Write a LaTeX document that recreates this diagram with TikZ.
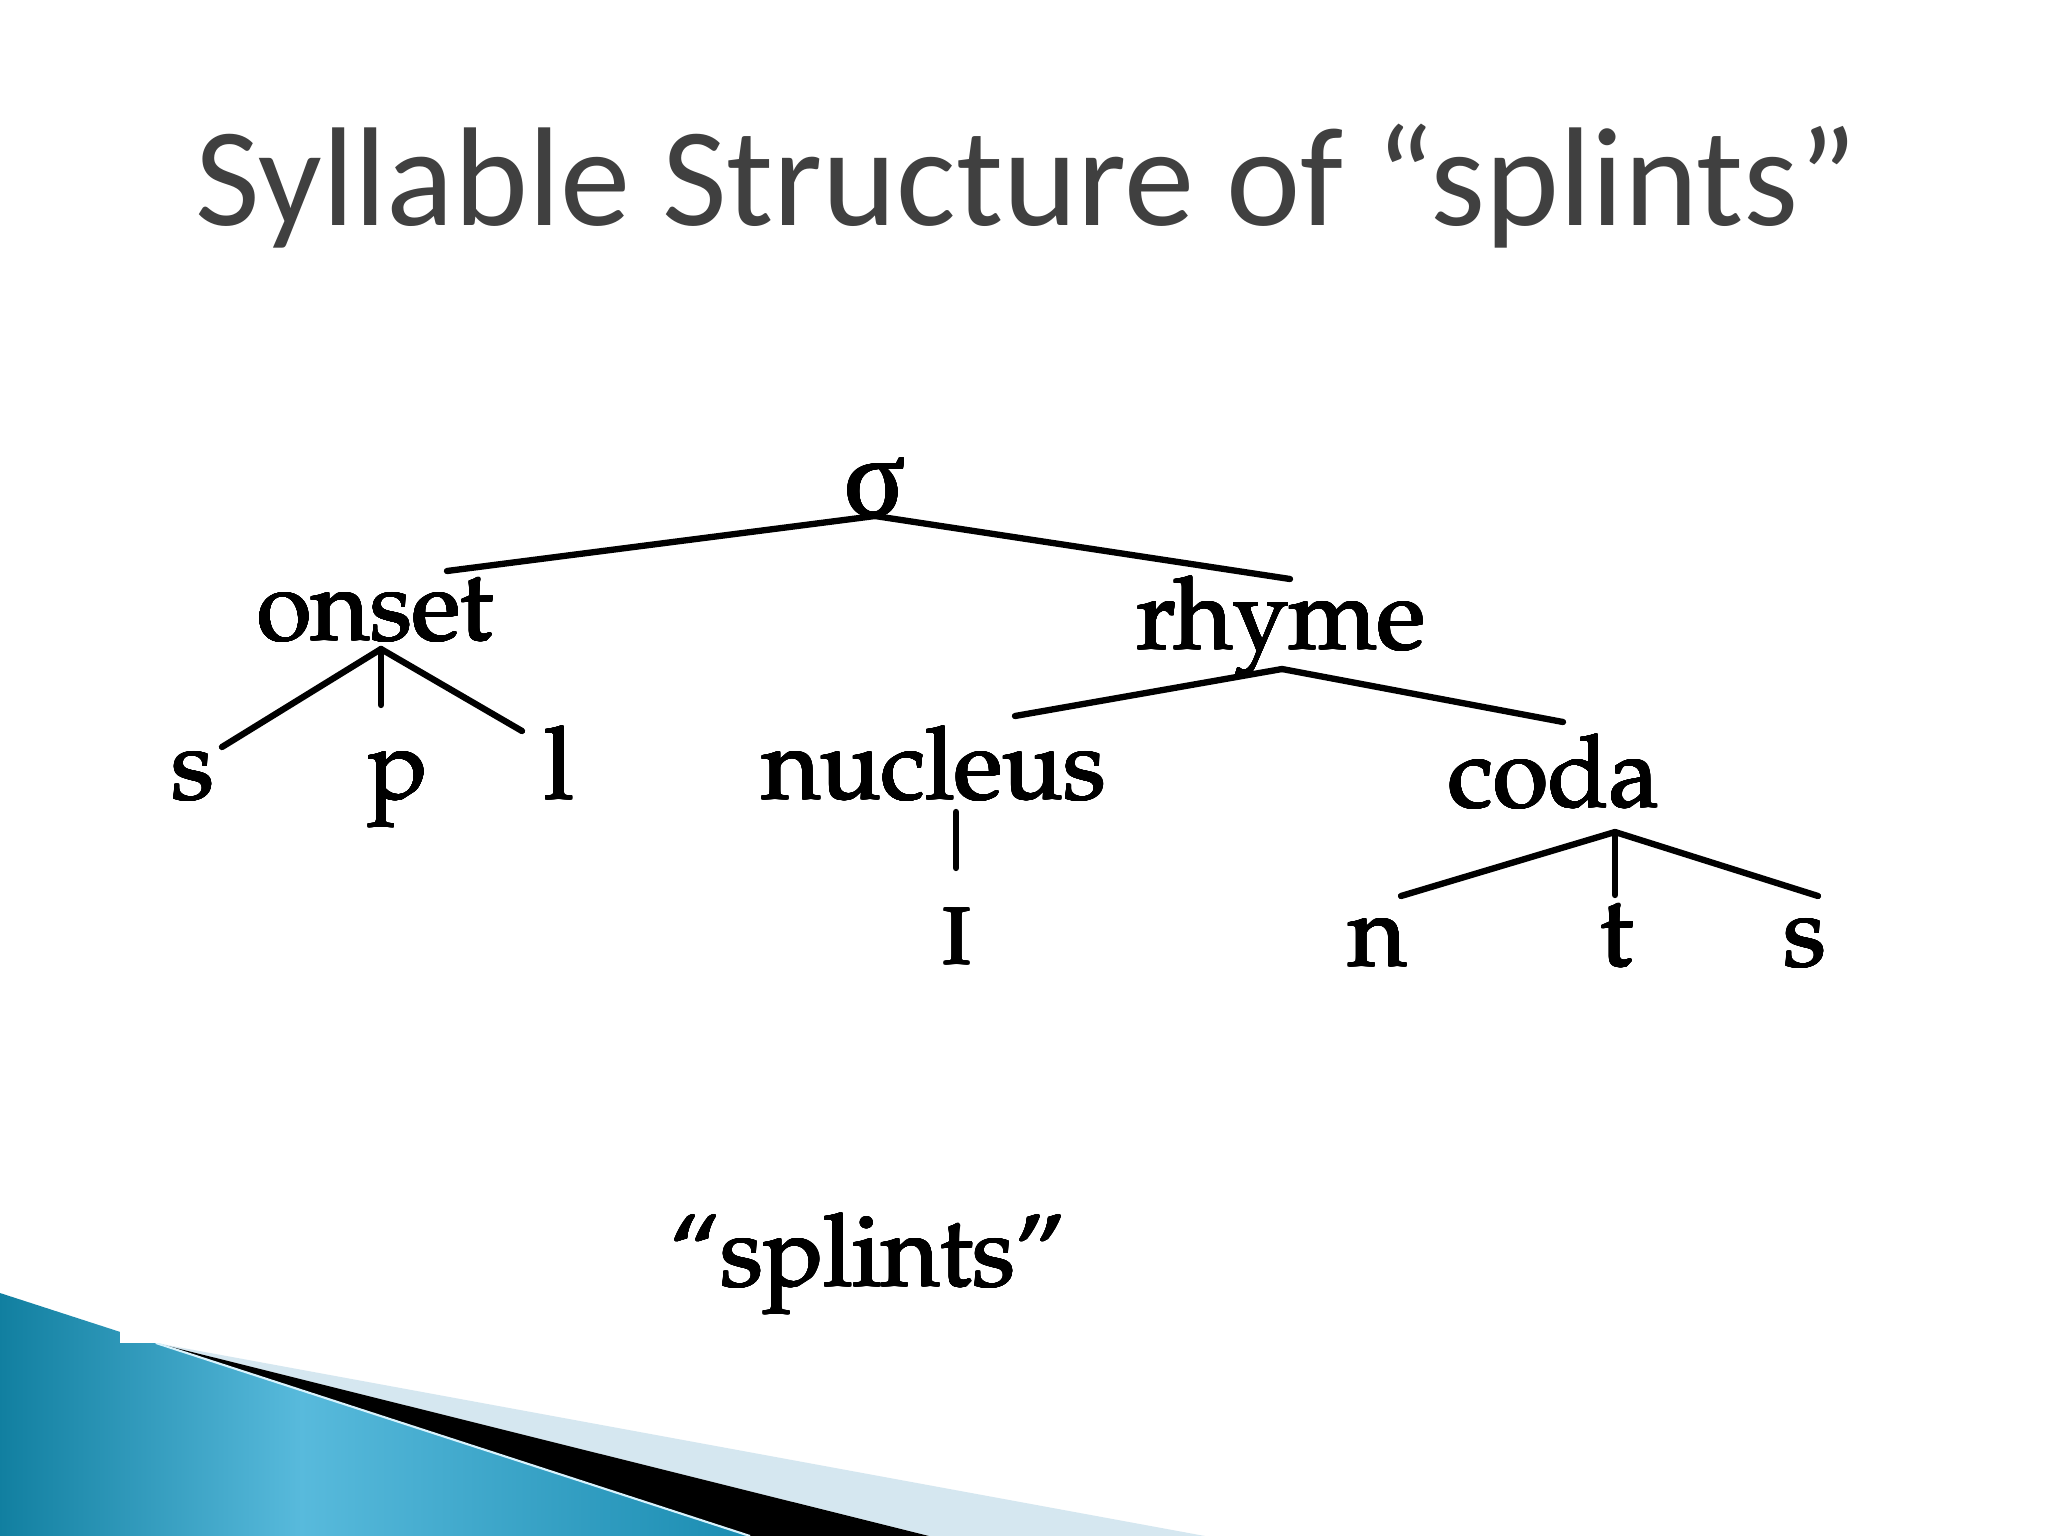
\documentclass[tikz,border=0pt]{standalone}
\usepackage[T1]{fontenc}
\usepackage{fontspec}
\usepackage{tikz}
\usepackage{contour}
\usetikzlibrary{calc}

\newfontfamily\titlefont{Carlito}
\newfontfamily\sigmafont{Liberation Serif}
\newcommand\treefont{\fontencoding{T1}\fontfamily{ppl}\fontsize{28.5}{32}\selectfont}
\contourlength{0.25pt}
\contournumber{24}
\newcommand\heavy[1]{\contour{black}{#1}}

\definecolor{titlegray}{HTML}{404040}
\definecolor{tealdark}{HTML}{117FA0}
\definecolor{teallight}{HTML}{58BADC}
\definecolor{tealmid}{HTML}{1A8CB1}
\definecolor{bandblue}{HTML}{D5E7F0}

\begin{document}
\begin{tikzpicture}[
      x=0.01cm, y=-0.01cm,
      lbl/.style={font=\treefont, inner sep=0pt, anchor=base},
      br/.style={line width=1.8pt, line cap=round},
    ]

    \fill[white] (0,0) rectangle (2048,1536);
    \useasboundingbox (0,0) rectangle (2048,1536);

    % corner decoration
    \fill[bandblue] (156,1343) -- (1205,1536) -- (929,1536) -- cycle;
    \fill[black] (156,1343) -- (929,1536) -- (750,1536) -- cycle;
    \begin{scope}
      \clip (0,1293) -- (750,1536) -- (0,1536) -- cycle;
      \shade[left color=tealdark, right color=teallight] (-1,1290) rectangle (302,1540);
      \shade[left color=teallight, right color=tealmid] (300,1290) rectangle (752,1540);
    \end{scope}
    \draw[cyan!15!white, line width=0.6pt] (156,1343) -- (750,1536);
    \fill[white] (120,1318) rectangle (168,1343);

    % title
    \node[font=\titlefont\fontsize{40}{44}\selectfont, text=titlegray, inner sep=0pt, anchor=base]
      (title) at (1027,225) {Syllable Structure of “splints”};

    % tree
    \node[font=\sigmafont\fontsize{32}{36}\selectfont, inner sep=0pt, anchor=base] (sigma) at (875,516) {\heavy{σ}};
    \node[lbl] (onset) at (375,640) {\heavy{onset}};
    \node[lbl] (rhyme) at (1281,649) {\heavy{rhyme}};
    \node[lbl] (s1) at (193,799) {\heavy{s}};
    \node[lbl] (p) at (398,799) {\heavy{p}};
    \node[lbl] (l) at (559,799) {\heavy{l}};
    \node[lbl] (nucleus) at (934,799) {\heavy{nucleus}};
    \node[lbl] (coda) at (1554,807) {\heavy{coda}};
    \node[lbl] (vowel) at (957,964) {\heavy{\textsc{i}}};
    \node[lbl] (n) at (1378,966) {\heavy{n}};
    \node[lbl] (t) at (1617,966) {\heavy{t}};
    \node[lbl] (s2) at (1805,966) {\heavy{s}};
    \node[lbl] (word) at (868,1286) {\heavy{``splints''}};

    \draw[br] (sigma.base) -- ($(onset.base)+(72,-69)$);
    \draw[br] (sigma.base) -- ($(rhyme.base)+(9,-70)$);

    \draw[br] ($(onset.base)+(6,9)$) -- ($(s1.base)+(29,-52)$);
    \draw[br] ($(onset.base)+(6,9)$) -- ($(onset.base)+(6,65)$);
    \draw[br] ($(onset.base)+(6,9)$) -- ($(l.base)+(-37,-68)$);

    \draw[br] ($(rhyme.base)+(1,20)$) -- ($(nucleus.base)+(81,-83)$);
    \draw[br] ($(rhyme.base)+(1,20)$) -- ($(coda.base)+(9,-85)$);

    \draw[br] ($(nucleus.base)+(22,13)$) -- ($(vowel.base)+(-1,-96)$);

    \draw[br] ($(coda.base)+(61,25)$) -- ($(n.base)+(23,-70)$);
    \draw[br] ($(coda.base)+(61,25)$) -- ($(t.base)+(-2,-71)$);
    \draw[br] ($(coda.base)+(61,25)$) -- ($(s2.base)+(13,-70)$);

  \end{tikzpicture}
\end{document}
